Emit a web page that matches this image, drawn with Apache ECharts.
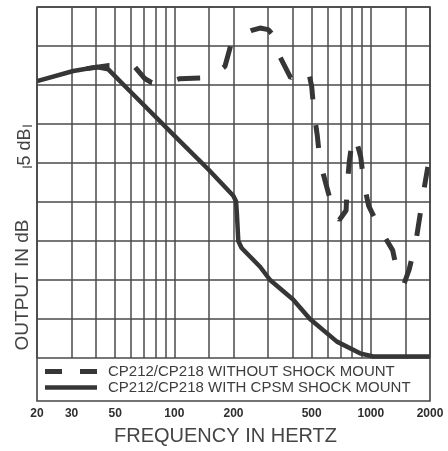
<!DOCTYPE html>
<html><head><meta charset="utf-8">
<script src="https://cdn.jsdelivr.net/npm/echarts@6/dist/echarts.min.js"></script>
<style>html,body{margin:0;padding:0;background:#fff}#c{width:448px;height:451px}</style>
</head><body><div id="c"></div>
<script>
// Frequency grid (Hz) and labelled ticks
const gridFreqs = [20, 30, 40, 50, 60, 70, 80, 90, 100, 150, 200, 300, 400, 500, 600, 700, 800, 900, 1000, 1500, 2000];
const tickLabels = [20, 30, 50, 100, 200, 500, 1000, 2000];
const seriesNames = ['CP212/CP218 WITHOUT SHOCK MOUNT', 'CP212/CP218 WITH CPSM SHOCK MOUNT'];

// Without shock mount (dashed) — relative output in dB
const freqWithout = [35.8, 46.6, 55, 63, 70.9, 76.7, 90, 106, 139, 160, 181, 193.6, 220, 247.6, 273, 300.7, 313, 345, 391, 462, 481, 500, 514, 534, 551, 591, 640, 691, 748, 759, 777, 809, 841, 888, 923, 975, 1122, 1292, 1380, 1480, 1569, 1697, 1764, 1860, 1950];
const dbWithout = [37.1, 37.5, 37.5, 37.3, 35.8, 35.3, 35.2, 35.8, 35.9, 36.3, 37.4, 40.1, 41.4, 42.0, 42.3, 42.1, 41.6, 38.6, 35.9, 37.0, 36.8, 34.8, 31.4, 28.5, 25.2, 22.3, 19.1, 17.7, 18.9, 22.3, 25.2, 28.4, 28.0, 25.8, 22.3, 19.5, 16.4, 13.8, 10.4, 9.6, 11.4, 15.0, 17.7, 21.5, 24.5];

// With CPSM shock mount (solid)
const freqWith = [20, 30.6, 40.3, 46.1, 59.5, 100, 150, 199.5, 206, 208, 211.6, 220, 273, 307, 402, 490, 672, 881, 1026, 2000];
const dbWith = [35.5, 36.8, 37.3, 37.0, 34.2, 28.5, 24.1, 20.8, 20.1, 18.6, 15.0, 14.1, 11.7, 10.0, 7.5, 5.0, 2.1, 0.6, 0.2, 0.2];

const ink = '#363636';
const gridInk = '#4a4a4a';
const font = '"Liberation Sans", Arial, Helvetica, sans-serif';

const chart = echarts.init(document.getElementById('c'), null, {renderer: 'canvas'});
chart.setOption({
  animation: false,
  backgroundColor: '#ffffff',
  grid: {left: 37, right: 18, top: 7, bottom: 93, containLabel: false},
  xAxis: {
    type: 'log', logBase: 10, min: 20, max: 2000,
    axisLine: {show: false},
    axisTick: {show: false, customValues: gridFreqs},
    splitLine: {show: true, lineStyle: {color: gridInk, width: 1.5}},
    axisLabel: {
      customValues: tickLabels, margin: 50, showMinLabel: true, showMaxLabel: true,
      formatter: v => String(v), fontSize: 12, fontWeight: 'bold', color: '#2e2e2e', fontFamily: font
    },
    name: 'FREQUENCY IN HERTZ', nameLocation: 'middle', nameGap: 68,
    nameTextStyle: {fontSize: 20, color: '#444', fontFamily: font, padding: [0, 16, 0, 0]}
  },
  yAxis: {
    type: 'value', min: 0, max: 45, interval: 5,
    axisLine: {show: false}, axisTick: {show: false}, axisLabel: {show: false},
    splitLine: {show: true, lineStyle: {color: gridInk, width: 1.5}}
  },
  legend: {
    orient: 'vertical', left: 40, top: 359, itemWidth: 52, itemHeight: 10, itemGap: 1,
    selectedMode: false,
    itemStyle: {borderWidth: 0},
    textStyle: {fontSize: 15, lineHeight: 15, color: '#3d3d3d', fontFamily: font, padding: [0, 0, 0, 6]},
    data: [
      {name: seriesNames[0], icon: 'path://M0 0H17V5H0Z M35 0H52V5H35Z'},
      {name: seriesNames[1], icon: 'path://M0 0H52V4.5H0Z'}
    ]
  },
  graphic: [
    {type: 'rect', silent: true, z: 10, shape: {x: 37, y: 7, width: 393, height: 394},
     style: {fill: 'none', stroke: '#454545', lineWidth: 1.6}},
    {type: 'text', silent: true, x: 23, y: 285, rotation: Math.PI / 2,
     style: {text: 'OUTPUT IN dB', fontSize: 19, fontFamily: font, fill: '#444', align: 'center', verticalAlign: 'middle'}},
    {type: 'text', silent: true, x: 25, y: 147, rotation: Math.PI / 2,
     style: {text: '5 dB', fontSize: 18, fontFamily: font, fill: '#444', align: 'center', verticalAlign: 'middle'}},
    {type: 'line', silent: true, shape: {x1: 22.5, y1: 126, x2: 32, y2: 126}, style: {stroke: '#444', lineWidth: 1.3}},
    {type: 'line', silent: true, shape: {x1: 22.5, y1: 167, x2: 32, y2: 167}, style: {stroke: '#444', lineWidth: 1.3}}
  ],
  series: [
    {
      name: seriesNames[0], type: 'line', symbol: 'none', z: 5, color: ink,
      data: freqWithout.map((f, i) => [f, dbWithout[i]]),
      lineStyle: {color: ink, width: 5, type: [23, 26], cap: 'butt'}
    },
    {
      name: seriesNames[1], type: 'line', symbol: 'none', z: 4, color: ink,
      data: freqWith.map((f, i) => [f, dbWith[i]]),
      lineStyle: {color: ink, width: 4.5, type: 'solid', join: 'round'}
    }
  ]
});
</script>
</body></html>
